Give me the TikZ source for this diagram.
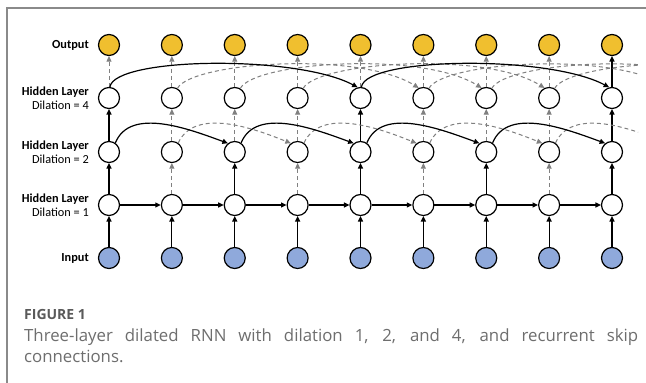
\documentclass[tikz,border=0pt]{standalone}
\usepackage{fontspec}
\setmainfont{Carlito}
\newfontfamily\capfont{Open Sans}
\usetikzlibrary{arrows.meta}
\definecolor{gold}{HTML}{F0BF2F}
\definecolor{inblue}{HTML}{8FA9DB}
\definecolor{dashgray}{HTML}{808080}
\definecolor{framegray}{HTML}{8A8A8A}
\definecolor{capgray}{HTML}{6E6E6E}
\definecolor{taggray}{HTML}{5A5A5A}
\begin{document}
\begin{tikzpicture}[x=1pt,y=1pt,
  unit/.style={circle,draw=black,line width=1.2pt,minimum size=21pt,inner sep=0pt,fill=white},
  outunit/.style={unit,fill=gold},
  inunit/.style={unit,fill=inblue},
  ghost/.style={circle,minimum size=21pt,inner sep=0pt},
  link/.style={line width=1.2pt,-{Triangle[length=5.5pt,width=5pt]}},
  skiplink/.style={dashgray,line width=1pt,dash pattern=on 4pt off 3pt,-{Triangle[length=5.5pt,width=5pt]}},
  lbl/.style={anchor=east,align=right,inner sep=0pt,font=\fontsize{12.3}{14.5}\selectfont},
  captext/.style={anchor=base west,inner sep=0pt,text=capgray,font=\capfont\fontsize{16.8}{21}\selectfont},
]
\useasboundingbox (0,0) rectangle (646,383);
\fill[white] (0,0) rectangle (646,383);
\draw[framegray,line width=1.2pt] (646,375) -- (7,375) -- (7,0);

% units, one column per time step
\foreach \i in {0,...,8}{
  \pgfmathsetmacro\xx{109+62.875*\i}
  \node[outunit] (o\i) at (\xx,338) {};
  \node[unit]    (a\i) at (\xx,285) {};
  \node[unit]    (b\i) at (\xx,231) {};
  \node[unit]    (c\i) at (\xx,178) {};
  \node[inunit]  (n\i) at (\xx,125) {};
}
% next time steps, outside the visible window
\foreach \i in {9,10,11}{
  \pgfmathsetmacro\xx{109+62.875*\i}
  \node[ghost] (a\i) at (\xx,285) {};
  \node[ghost] (b\i) at (\xx,231) {};
}

% row labels
\node[lbl] (lo) at (89,338) {\textbf{Output}};
\node[lbl] (la) at (89,285) {\textbf{Hidden Layer}\\Dilation = 4};
\node[lbl] (lb) at (89,231) {\textbf{Hidden Layer}\\Dilation = 2};
\node[lbl] (lc) at (89,178) {\textbf{Hidden Layer}\\Dilation = 1};
\node[lbl] (ln) at (89,125) {\textbf{Input}};

% input to first hidden layer
\foreach \i in {0,...,8} \draw[link] (n\i) -- (c\i);
% dilation 1 recurrence
\foreach \i [evaluate=\i as \j using int(\i+1)] in {0,...,7} \draw[link] (c\i) -- (c\j);
% first to second hidden layer
\foreach \i in {0,2,4,6,8} \draw[link] (c\i) -- (b\i);
\foreach \i in {1,3,5,7} \draw[skiplink] (c\i) -- (b\i);
% second to third hidden layer
\foreach \i in {0,4,8} \draw[link] (b\i) -- (a\i);
\foreach \i in {1,2,3,5,6,7} \draw[skiplink] (b\i) -- (a\i);
% third hidden layer to output
\foreach \i in {0,...,7} \draw[skiplink] (a\i) -- (o\i);
\draw[link] (a8) -- (o8);

\begin{scope}
  \clip (0,0) rectangle (638,383);
  % dilation 2 recurrence
  \foreach \i [evaluate=\i as \j using int(\i+2)] in {1,3,5,7}
    \draw[skiplink] (b\i.55) to[out=65,in=158,looseness=0.9] (b\j.128);
  \foreach \i [evaluate=\i as \j using int(\i+2)] in {0,2,4,6}
    \draw[link] (b\i.55) to[out=68,in=160,looseness=0.9] (b\j.128);
  % dilation 4 recurrence
  \foreach \i [evaluate=\i as \j using int(\i+4)] in {1,2,3,5,6,7}
    \draw[skiplink] (a\i.60) to[out=62,in=148,out distance=30pt,in distance=70pt] (a\j.115);
  \foreach \i [evaluate=\i as \j using int(\i+4)] in {0,4}
    \draw[link] (a\i.85) to[out=82,in=152,out distance=30pt,in distance=70pt] (a\j.105);
\end{scope}

% caption
\node[captext,text=taggray,font=\capfont\bfseries\fontsize{14}{16}\selectfont] (figtag) at (24,63) {FIGURE 1};
\node[captext] (cap1) at (24,41)
  {\makebox[614pt][s]{Three-layer dilated RNN with dilation 1, 2, and 4, and recurrent skip}};
\node[captext] (cap2) at (24,20) {connections.};
\end{tikzpicture}
\end{document}
